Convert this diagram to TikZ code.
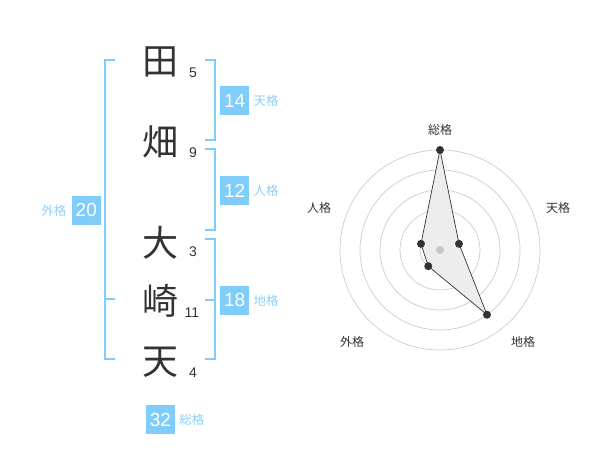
\documentclass[tikz,border=0pt]{standalone}
\usepackage{fontspec}
\setmainfont{Liberation Sans}
\newfontfamily\jp{Noto Sans CJK JP}
\usetikzlibrary{positioning}
\definecolor{skyblue}{RGB}{128,204,250}
\definecolor{skylabel}{RGB}{140,208,246}
\definecolor{ink}{RGB}{51,51,51}
\tikzset{
  kanji/.style={text=ink, font=\jp\fontsize{36}{36}\selectfont, inner sep=0pt},
  strokes/.style={text=ink, font=\fontsize{14}{14}\selectfont, inner sep=0pt},
  scorebox/.style={fill=skyblue, text=white, minimum size=29pt, inner sep=0pt, font=\fontsize{19}{19}\selectfont},
  kakulabel/.style={text=skylabel, font=\jp\fontsize{12.5}{12.5}\selectfont, inner sep=1pt},
  radarlabel/.style={text=ink, font=\jp\fontsize{12}{12}\selectfont, inner sep=0pt},
  bracket/.style={draw=skyblue, line width=2pt},
  ring/.style={draw=black!20, line width=0.7pt},
  dot/.style={fill=ink}
}
\begin{document}
\begin{tikzpicture}[x=1pt, y=-1pt]
\useasboundingbox (0,0) rectangle (600,470);
% name
\node[kanji] (c1) at (160,62) {田};
\node[kanji] (c2) at (160,142) {畑};
\node[kanji] (c3) at (160,243) {大};
\node[kanji] (c4) at (160,301) {崎};
\node[kanji] (c5) at (160,362) {天};
\node[strokes] (s1) at (193,73) {5};
\node[strokes] (s2) at (193,153) {9};
\node[strokes] (s3) at (193,252) {3};
\node[strokes] (s4) at (192,313) {11};
\node[strokes] (s5) at (193,373) {4};
% brackets
\draw[bracket] (115,60) -- (105,60) -- (105,359.3) -- (115,359.3);
\draw[bracket] (105,299.5) -- (115,299.5);
\draw[bracket] (205,60) -- (214.5,60) -- (214.5,140) -- (205,140);
\draw[bracket] (205,149.3) -- (214.5,149.3) -- (214.5,230) -- (205,230);
\draw[bracket] (205,239.5) -- (214.5,239.5) -- (214.5,359.3) -- (205,359.3);
\draw[bracket] (205,300) -- (214.5,300);
% scores
\node[scorebox] (ten) at (234.7,100.5) {14};
\node[kakulabel, right=3pt of ten] (tenl) {天格};
\node[scorebox] (jin) at (234.7,190.5) {12};
\node[kakulabel, right=3pt of jin] (jinl) {人格};
\node[scorebox] (chi) at (234.7,300.3) {18};
\node[kakulabel, right=3pt of chi] (chil) {地格};
\node[scorebox] (gai) at (86.3,210.3) {20};
\node[kakulabel, left=4pt of gai] (gail) {外格};
\node[scorebox] (sou) at (160.5,419.5) {32};
\node[kakulabel, right=3pt of sou] (soul) {総格};
% radar
\begin{scope}[shift={(440,250)}, yscale=-1]
\foreach \r in {20,40,60,80,100}
  \draw[ring] (0,0) circle[radius=\r pt];
\coordinate (rsou) at (90:100);
\coordinate (rten) at (18:20);
\coordinate (rchi) at (-54:80);
\coordinate (rgai) at (-126:20);
\coordinate (rjin) at (162:20);
\draw[fill=black!7, draw=ink, line width=0.7pt] (rsou) -- (rten) -- (rchi) -- (rgai) -- (rjin) -- cycle;
\fill[black!22] (0,0) circle[radius=4pt];
\foreach \p in {rsou,rten,rchi,rgai,rjin}
  \fill[dot] (\p) circle[radius=4pt];
\node[radarlabel] (lsou) at (0,120) {総格};
\node[radarlabel] (lten) at (118,42) {天格};
\node[radarlabel] (lchi) at (83,-92) {地格};
\node[radarlabel] (lgai) at (-88,-92) {外格};
\node[radarlabel] (ljin) at (-121,42) {人格};
\end{scope}
\end{tikzpicture}
\end{document}
